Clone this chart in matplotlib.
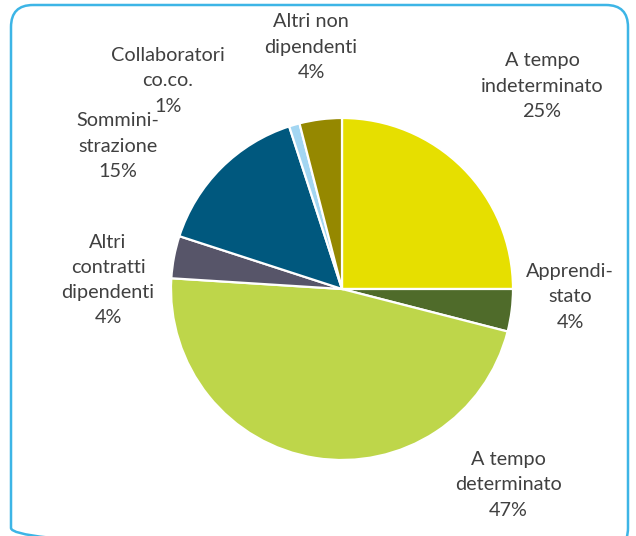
import matplotlib
matplotlib.use("Agg")
import matplotlib.pyplot as plt
from matplotlib.patches import FancyBboxPatch

categories = ["A tempo\nindeterminato", "Apprendi-\nstato", "A tempo\ndeterminato",
              "Altri\ncontratti\ndipendenti", "Sommini-\nstrazione",
              "Collaboratori\nco.co.", "Altri non\ndipendenti"]
values = [25, 4, 47, 4, 15, 1, 4]
pct_labels = ["25%", "4%", "47%", "4%", "15%", "1%", "4%"]
colors = ["#E6DF00", "#4F6B2A", "#BED64A", "#575569", "#00587E", "#A3D6F2", "#958800"]
label_pos = [(542, 86), (570, 297), (508, 485), (108, 280), (118, 146), (168, 81), (311, 47)]

plt.rcParams['font.family'] = ['Lato', 'DejaVu Sans']
fig = plt.figure(figsize=(6.36, 5.36), dpi=100)
ax = fig.add_axes([0, 0, 1, 1])
ax.set_xlim(0, 636)
ax.set_ylim(536, 0)
ax.set_aspect('equal')
ax.axis('off')

border = FancyBboxPatch((11, 5), 617, 545, boxstyle="round,pad=0,rounding_size=22",
                        fill=False, edgecolor="#3DB5E6", linewidth=1.8)
ax.add_patch(border)

# y axis is inverted, so angles are mirrored: start at -90 going counterclockwise in data
ax.pie(values, colors=colors, startangle=-90, counterclock=True,
       center=(342, 289), radius=171,
       wedgeprops=dict(edgecolor="white", linewidth=1.6))
ax.set_ylim(536, 0)
ax.set_xlim(0, 636)

for cat, pct, (x, y) in zip(categories, pct_labels, label_pos):
    ax.text(x, y, cat + "\n" + pct, ha="center", va="center", fontsize=14.3,
            color="#404040", linespacing=1.58)

fig.savefig("out.png", dpi=100)
